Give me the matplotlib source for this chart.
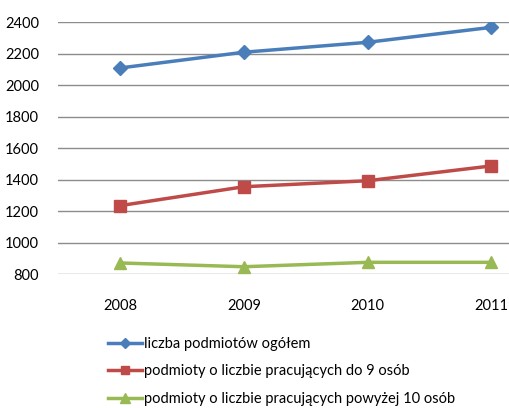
import matplotlib.pyplot as plt

years = ["2008", "2009", "2010", "2011"]
ogolem = [2110, 2210, 2273, 2368]
do_9 = [1236, 1356, 1394, 1488]
powyzej_10 = [872, 848, 876, 876]

labels = ["liczba podmiotów ogółem",
          "podmioty o liczbie pracujących do 9 osób",
          "podmioty o liczbie pracujących powyżej 10 osób"]

plt.rcParams['font.family'] = ['Lato', 'DejaVu Sans']

fig = plt.figure(figsize=(5.09, 4.08), dpi=100)
W, H = 509, 408
# plot area runs past the right edge, as in the original
ax = fig.add_axes([58.3 / W, 1 - 274.3 / H, 494.8 / W, (274.3 - 22.3) / H])

x = range(len(years))
ax.plot(x, ogolem, color="#4A7EBB", lw=2.5, marker="D", ms=7, label=labels[0])
ax.plot(x, do_9, color="#BE4B48", lw=2.5, marker="s", ms=8, label=labels[1])
ax.plot(x, powyzej_10, color="#98B954", lw=2.5, marker="^", ms=9, label=labels[2])

ax.set_xlim(-0.5, 3.5)
ax.set_ylim(800, 2400)
ax.set_yticks(range(800, 2401, 200))
ax.set_xticks(list(x))
ax.set_xticklabels(years)
ax.grid(axis="y", color="#8C8C8C", lw=1)
ax.set_axisbelow(True)
for s in ax.spines.values():
    s.set_visible(False)
ax.tick_params(length=0, labelsize=10.5, colors="#000000")
ax.tick_params(axis="y", pad=14)
ax.tick_params(axis="x", pad=18)

fig.legend(loc="upper left", bbox_to_anchor=(108 / W, 1 - 337 / H), frameon=False,
           fontsize=10.5, handlelength=2.3, handletextpad=0.2, labelspacing=0.92,
           borderpad=0, borderaxespad=0, markerscale=0.75)

fig.savefig("out.png", dpi=100)
